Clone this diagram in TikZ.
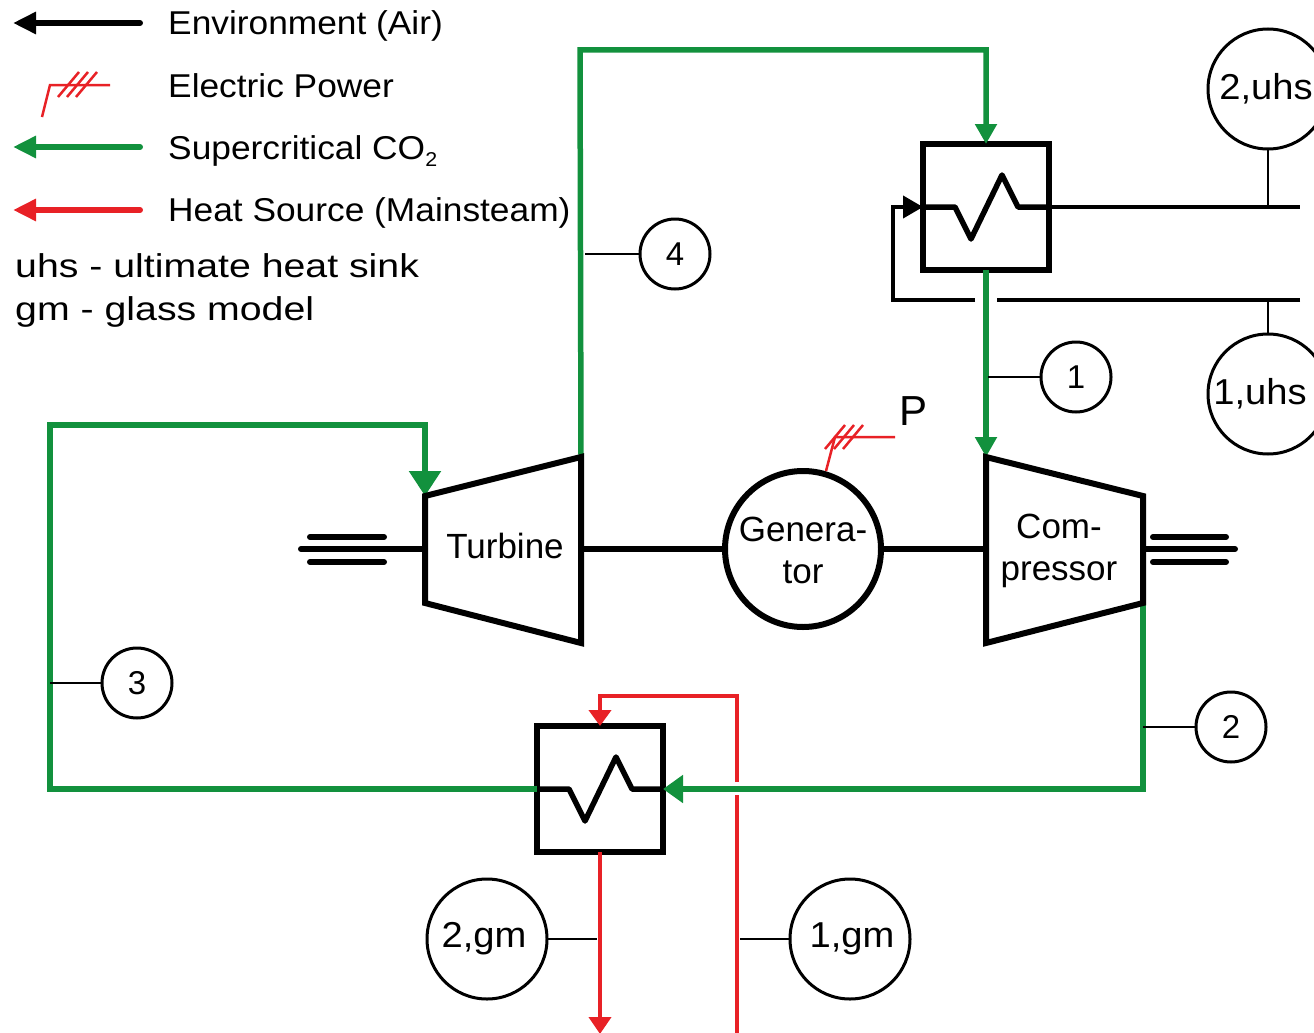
\documentclass[tikz,border=0pt]{standalone}
\usepackage{fontspec}
\setmainfont{Liberation Sans}
\newfontfamily\legendfont[FakeStretch=1.07]{Liberation Sans}
\newfontfamily\notefont[FakeStretch=1.19]{Liberation Sans}
\newfontfamily\statefont[FakeStretch=1.06]{Liberation Sans}
\usepackage{xcolor}
\definecolor{co2}{rgb}{0.07, 0.57, 0.24}
\definecolor{heat}{rgb}{0.91, 0.13, 0.15}
\usetikzlibrary{arrows.meta}
\usetikzlibrary{calc}
\tikzset{
	air/.style={line width=4pt, draw=black},
	shaft/.style={line width=6pt, draw=black, line cap=round},
	co2line/.style={line width=5.5pt, draw=co2},
	heatline/.style={line width=4pt, draw=heat},
	power/.style={line width=2.5pt, draw=heat},
	tag/.style={line width=2.5pt, draw=black},
	gas/.style={-{Triangle[length=20pt,width=21pt]}},
	machine/.style={line width=6pt, draw=black, line join=miter},
	hxbox/.style={rectangle, draw=black, line width=6pt, minimum size=126pt, inner sep=0pt, outer sep=0pt},
	smallstate/.style={circle, draw=black, line width=3pt, fill=white, minimum size=70pt, inner sep=0pt, outer sep=0pt, font=\fontsize{33}{40}\selectfont},
	bigstate/.style={circle, draw=black, line width=3pt, fill=white, minimum size=120pt, inner sep=0pt, outer sep=0pt, font=\fontsize{36}{42}\selectfont\statefont},
	legendtext/.style={anchor=base west, inner sep=0pt, font=\fontsize{33}{40}\selectfont\legendfont},
	notetext/.style={anchor=base west, inner sep=0pt, font=\fontsize{33}{40}\selectfont\notefont},
	machinetext/.style={inner sep=0pt, anchor=base, font=\fontsize{35}{42}\selectfont},
}
\begin{document}
\begin{tikzpicture}[x=1pt, y=-1pt]
		\useasboundingbox (0,0) rectangle (1314,1033);

		%legend
		\node[legendtext] (legair) at (168,35) {Environment (Air)};
		\node[legendtext] (legpower) at (168,97) {Electric Power};
		\node[legendtext] (legco) at (168,159) {Supercritical CO\raisebox{-7pt}{\fontsize{20}{24}\selectfont 2}};
		\node[legendtext] (legheat) at (168,221) {Heat Source (Mainsteam)};
		\node[notetext] (noteuhs) at (15,277) {uhs - ultimate heat sink};
		\node[notetext] (notegm) at (15,320) {gm - glass model};
		\coordinate (legairend) at (13,23);
		\coordinate (legairstart) at (140,23);
		\coordinate (legcoend) at (13,147);
		\coordinate (legcostart) at (140,147);
		\coordinate (legheatend) at (13,210);
		\coordinate (legheatstart) at (140,210);
		\draw [line width=6pt, draw=black, line cap=round, -{Triangle[length=23pt,width=21pt]}] (legairstart) -- (legairend);
		\draw [line width=6pt, draw=co2, line cap=round, -{Triangle[length=23pt,width=21pt]}] (legcostart) -- (legcoend);
		\draw [line width=6pt, draw=heat, line cap=round, -{Triangle[length=23pt,width=21pt]}] (legheatstart) -- (legheatend);
		\draw [power] (42,117) -- (50,85) -- (110,85);
		\foreach \x in {0,9,18}
		\draw [power] (58+\x,97) -- (79+\x,72);

		%machines
		\coordinate (tuina) at (425,496);
		\coordinate (tuinb) at (425,603);
		\coordinate (tuouta) at (581,457);
		\coordinate (tuoutb) at (581,643);
		\coordinate (coina) at (986,457);
		\coordinate (coinb) at (986,643);
		\coordinate (coouta) at (1143,496);
		\coordinate (cooutb) at (1143,603);
		\node[circle, draw=black, line width=6pt, minimum size=156pt, inner sep=0pt, outer sep=0pt] (gen) at (803,549) {};
		\node[machinetext] (genup) at (803,541) {Genera-};
		\node[machinetext] (gendown) at (803,583) {tor};
		\node[machinetext] (turbine) at (505,558) {Turbine};
		\node[machinetext] (comup) at (1059,538) {Com-};
		\node[machinetext] (comdown) at (1059,580) {pressor};

		%shafts
		\draw [shaft] (tuouta |- gen.west) -- (gen.west);
		\draw [shaft] (gen.east) -- (coina |- gen.east);
		\draw [shaft] (301,549) -- (tuina |- gen.west);
		\draw [shaft] (coouta |- gen.east) -- (1235,549);
		\foreach \y in {537,562}
		{
		\draw [shaft] (310,\y) -- (384,\y);
		\draw [shaft] (1153,\y) -- (1226,\y);
		}

		%heat exchangers
		\node[hxbox] (hxuhs) at (986,207) {};
		\node[hxbox] (hxgm) at (600,789) {};

		%carbon dioxide loop
		\draw [co2line, gas] (tuouta) -- (580,50) -- (986,50) -- (hxuhs.north);
		\draw [co2line, gas] (hxuhs.south) -- (coina);
		\draw [co2line, -{Triangle[length=20pt,width=27pt]}] (cooutb) -- (1143,789) -- (hxgm.east);
		\draw [co2line, -{Triangle[length=25pt,width=31pt]}] (hxgm.west) -- (50,789) -- (50,425) -- (425,425) -- (tuina);

		\draw [machine] (tuina) -- (tuouta) -- (tuoutb) -- (tuinb) -- cycle;
		\draw [machine] (coina) -- (coouta) -- (cooutb) -- (coinb) -- cycle;
		\foreach \hx in {hxuhs,hxgm}
		\draw [line width=5.5pt, line join=round] (\hx.west) -- ++(32,0) -- ++(16,32) -- ++(31,-64) -- ++(16,32) -- (\hx.east);

		%generator output
		\node[inner sep=0pt, anchor=base, font=\fontsize{42}{48}\selectfont] (powerlabel) at (913,425) {P};
		\coordinate (powerend) at (895,437);
		\draw [power] (gen.north) ++(23,0) -- (835,437) -- (powerend);
		\foreach \x in {0,9,18}
		\draw [power] (825+\x,449) -- (845+\x,425);

		%heat sink
		\node[bigstate] (uhstwo) at (1268,89) {\hspace*{-4pt}2,uhs};
		\node[bigstate] (uhsone) at (1268,394) {\hspace*{-16pt}1,uhs};
		\coordinate (sinkout) at (1300,207);
		\coordinate (sinkin) at (1300,300);
		\draw [air] (hxuhs.east) -- (sinkout);
		\draw [air] (sinkin) -- (997,300);
		\draw [air, -{Triangle[length=20pt,width=22pt]}] (975,300) -- (893,300) -- (893,207) -- (hxuhs.west);
		\draw [tag] (uhstwo.south) -- (uhstwo.south |- sinkout);
		\draw [tag] (uhsone.north) -- (uhsone.north |- sinkin);

		%heat source
		\coordinate (sourcein) at (737,1033);
		\coordinate (sourceout) at (600,1034);
		\draw [heatline] (sourcein) -- (737,795);
		\draw [heatline, -{Triangle[length=16pt,width=22pt]}] (737,782) -- (737,696) -- (600,696) -- (hxgm.north);
		\draw [heatline, -{Triangle[length=17pt,width=22pt]}] (hxgm.south) -- (sourceout);
		\node[bigstate] (gmtwo) at (487,939) {\hspace*{-6pt}2,gm};
		\node[bigstate] (gmone) at (850,939) {\hspace*{4pt}1,gm};
		\draw [tag] (gmtwo.east) -- (597,939);
		\draw [tag] (gmone.west) -- (740,939);

		%state points
		\node[smallstate] (stone) at (1076,377) {1};
		\node[smallstate] (sttwo) at (1231,727) {2};
		\node[smallstate] (stthree) at (137,683) {3};
		\node[smallstate] (stfour) at (675,254) {4};
		\draw [tag] (stone.west) -- (988,377);
		\draw [tag] (sttwo.west) -- (1143,727);
		\draw [tag] (stthree.west) -- (50,683);
		\draw [tag] (stfour.west) -- (585,254);
\end{tikzpicture}
\end{document}
